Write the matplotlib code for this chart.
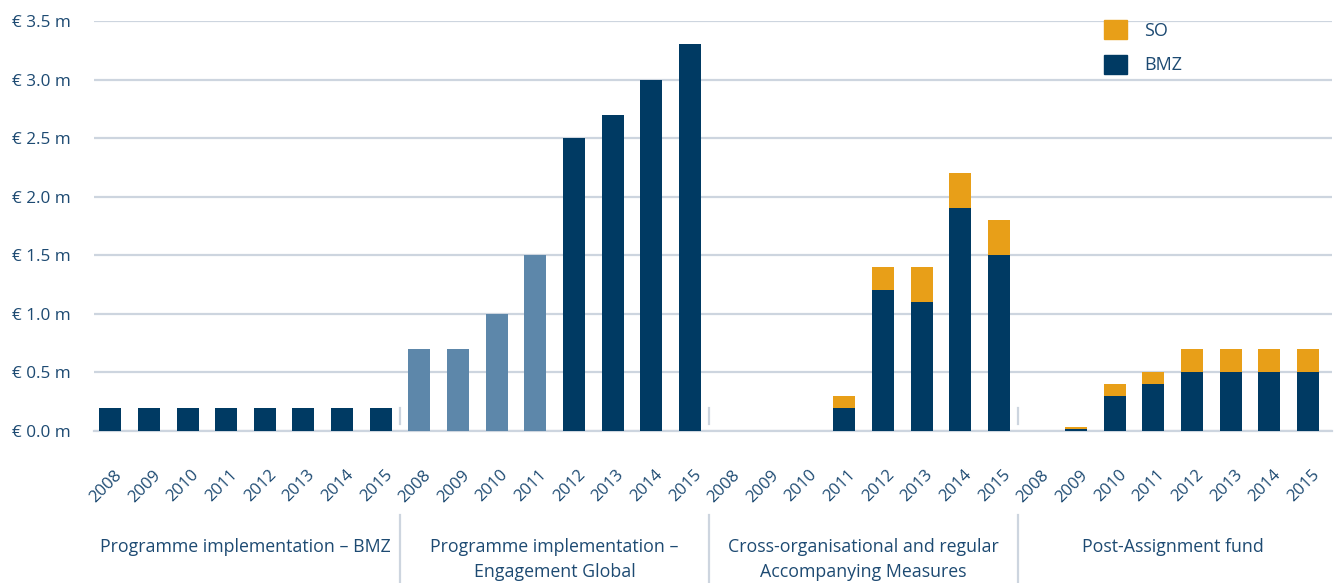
import numpy as np
import matplotlib.pyplot as plt
from matplotlib.patches import Patch
from matplotlib.transforms import ScaledTranslation, blended_transform_factory

plt.rcParams['font.family'] = ['Open Sans', 'DejaVu Sans']

years = ['2008', '2009', '2010', '2011', '2012', '2013', '2014', '2015']
groups = ['Programme implementation – BMZ',
          'Programme implementation –\nEngagement Global',
          'Cross-organisational and regular\nAccompanying Measures',
          'Post-Assignment fund']

# funding in million euro, one list per programme, 2008..2015
bmz_prog = [0.2, 0.2, 0.2, 0.2, 0.2, 0.2, 0.2, 0.2]
bmz_eg = [0.7, 0.7, 1.0, 1.5, 2.5, 2.7, 3.0, 3.3]
bmz_cross = [0.0, 0.0, 0.0, 0.2, 1.2, 1.1, 1.9, 1.5]
bmz_post = [0.0, 0.02, 0.3, 0.4, 0.5, 0.5, 0.5, 0.5]

so_prog = [0, 0, 0, 0, 0, 0, 0, 0]
so_eg = [0, 0, 0, 0, 0, 0, 0, 0]
so_cross = [0.0, 0.0, 0.0, 0.1, 0.2, 0.3, 0.3, 0.3]
so_post = [0.0, 0.01, 0.1, 0.1, 0.2, 0.2, 0.2, 0.2]

yticks = [0.0, 0.5, 1.0, 1.5, 2.0, 2.5, 3.0, 3.5]

NAVY = '#003a63'
LIGHT = '#5d87aa'
ORANGE = '#e89f18'
TEXT = '#1d4a72'
GRID = '#cdd5df'

bmz = np.concatenate([bmz_prog, bmz_eg, bmz_cross, bmz_post])
so = np.concatenate([so_prog, so_eg, so_cross, so_post])
n = len(years)
x = np.arange(len(bmz))

colors = [NAVY] * len(bmz)
for i in range(4):  # early Engagement Global years are drawn lighter
    colors[n + i] = LIGHT

fig = plt.figure(figsize=(13.38, 5.83), dpi=100)
ax = fig.add_axes([0.0703, 0.2607, 0.9252, 0.7033])

ax.bar(x, bmz, width=0.57, color=colors, zorder=3)
ax.bar(x, so, width=0.57, bottom=bmz, color=ORANGE, zorder=3)

ax.set_xlim(-0.42, len(bmz) - 0.38)
ax.set_ylim(0, 3.5)
ax.set_yticks(yticks)
ax.set_yticklabels([f'€ {v:.1f} m' for v in yticks], color=TEXT, fontsize=12.3)
ax.yaxis.grid(True, color=GRID, lw=1.6, zorder=0)
ax.tick_params(axis='y', length=0, pad=16.5)
for s in ax.spines.values():
    s.set_visible(False)
ax.axhline(0, color=GRID, lw=1.6, zorder=1, clip_on=False)

ax.set_xticks(x)
ax.set_xticklabels(years * 4, rotation=45, ha='right', va='center',
                   rotation_mode='anchor', color=TEXT, fontsize=12)
ax.tick_params(axis='x', length=0, pad=30)
shift = ScaledTranslation(0.09, 0, fig.dpi_scale_trans)
for lab in ax.get_xticklabels():
    lab.set_transform(lab.get_transform() + shift)

# group separators: short stubs at the baseline and long rules under the axis
trans = blended_transform_factory(ax.transData, fig.transFigure)
for g in range(1, 4):
    xs = g * n - 0.5
    ax.plot([xs, xs], [0.06, 0.2], color=GRID, lw=1.6, zorder=2)
    ax.plot([xs, xs], [0.0, 0.117], color=GRID, lw=1.6, transform=trans,
            clip_on=False)

for g, name in enumerate(groups):
    ax.text(g * n + (n - 1) / 2, 0.077, name, transform=trans, ha='center',
            va='top', color=TEXT, fontsize=12.8, linespacing=1.5)

handles = [Patch(color=ORANGE, label='SO'), Patch(color=NAVY, label='BMZ')]
fig.legend(handles=handles, loc='upper left', bbox_to_anchor=(0.8251, 0.9657),
           frameon=False, fontsize=13, labelcolor=TEXT, handlelength=1.27,
           handleheight=1.27, handletextpad=0.95, labelspacing=0.83,
           borderpad=0, borderaxespad=0)

fig.savefig('out.png', dpi=100)
